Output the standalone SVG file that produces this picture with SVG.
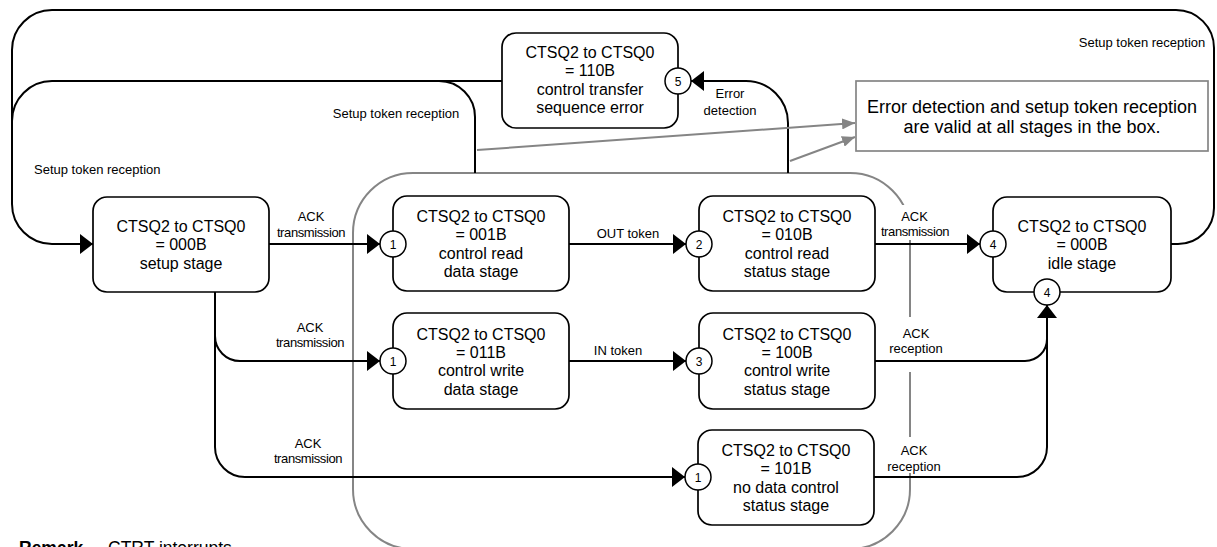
<svg xmlns="http://www.w3.org/2000/svg" width="1217" height="547" viewBox="0 0 1217 547">
<style>
  .box{fill:#fff;stroke:#000;stroke-width:1.7}
  .t{font-family:"Liberation Sans",Arial,sans-serif;font-size:16px;text-anchor:middle;fill:#000}
  .l{font-family:"Liberation Sans",Arial,sans-serif;font-size:13px;text-anchor:middle;fill:#000}
  .tr{letter-spacing:-0.4px}
  .c{fill:#fff;stroke:#000;stroke-width:1.5}
  .n{font-family:"Liberation Sans",Arial,sans-serif;font-size:12px;text-anchor:middle;fill:#000}
  .w{fill:none;stroke:#000;stroke-width:2}
  .wa{fill:none;stroke:#000;stroke-width:2;marker-end:url(#ah)}
  .g{fill:none;stroke:#858585;stroke-width:2}
  .ga{fill:none;stroke:#858585;stroke-width:2;marker-end:url(#gh)}
  .mask{fill:#fff;stroke:none}
</style>
<defs>
  <marker id="ah" markerUnits="userSpaceOnUse" markerWidth="13" markerHeight="20" viewBox="0 0 13 20" refX="13" refY="10" orient="auto">
    <path d="M0,0 L13,10 L0,20 Z" fill="#000"/>
  </marker>
  <marker id="gh" markerUnits="userSpaceOnUse" markerWidth="13" markerHeight="11" viewBox="0 0 13 11" refX="13" refY="5.5" orient="auto">
    <path d="M0,0 L13,5.5 L0,11 Z" fill="#858585"/>
  </marker>
</defs>
<rect width="1217" height="547" fill="#fff"/>

<g id="stage-box">
  <rect x="353" y="173" width="557" height="376" rx="60" ry="60" class="g"/>
</g>

<g id="label-masks">
  <rect class="mask" x="880" y="205" width="70" height="35"/>
  <rect class="mask" x="885" y="317" width="62" height="55"/>
  <rect class="mask" x="885" y="437" width="60" height="36"/>
</g>

<g id="connectors">
  <path class="wa" d="M1171,244 H1178 A36,36 0 0 0 1214,208 V48 A38,38 0 0 0 1176,10 H52 A40,40 0 0 0 12,50 V204 A40,40 0 0 0 52,244 H93"/>
  <path class="w" d="M502,81 H52 A40,40 0 0 0 12,121"/>
  <path class="w" d="M475,173 V117 A36,36 0 0 0 439,81"/>
  <path class="wa" d="M788,173 V123 A42,42 0 0 0 746,81 H691"/>
  <path class="wa" d="M269,244 H380"/>
  <path class="wa" d="M215,292 V336 A25,25 0 0 0 240,361 H380"/>
  <path class="wa" d="M215,292 V447 A30,30 0 0 0 245,477 H685"/>
  <path class="wa" d="M569,244 H686"/>
  <path class="wa" d="M569,361 H686"/>
  <path class="wa" d="M875,244 H980"/>
  <path class="wa" d="M875,361 H1025 A22,22 0 0 0 1047,339 V305"/>
  <path class="w" d="M874,477 H1017 A30,30 0 0 0 1047,447 V339"/>
  <path class="ga" d="M477,150 L855,123"/>
  <path class="ga" d="M790,161 L855,137"/>
</g>

<g id="labels">
  <text class="l" x="1142" y="47">Setup token reception</text>
  <text class="l" x="396" y="118">Setup token reception</text>
  <text class="l" x="34" y="174" style="text-anchor:start">Setup token reception</text>
  <text class="l" x="730" y="97.5">Error</text>
  <text class="l" x="730" y="114.5">detection</text>
  <text class="l" x="311" y="221">ACK</text>
  <text class="l tr" x="311" y="237">transmission</text>
  <text class="l" x="310" y="331.5">ACK</text>
  <text class="l tr" x="310" y="347">transmission</text>
  <text class="l" x="308" y="447.5">ACK</text>
  <text class="l tr" x="308" y="463">transmission</text>
  <text class="l" x="628" y="237.5">OUT token</text>
  <text class="l" x="618" y="354.5">IN token</text>
  <text class="l" x="914.5" y="220.5">ACK</text>
  <text class="l tr" x="915" y="236">transmission</text>
  <text class="l" x="916" y="337.5">ACK</text>
  <text class="l" x="916" y="353">reception</text>
  <text class="l" x="914" y="454.5">ACK</text>
  <text class="l" x="914" y="470.5">reception</text>
</g>

<g id="note">
  <rect x="856" y="81" width="352" height="70" fill="#fff" stroke="#858585" stroke-width="1.7"/>
  <text class="t" x="1032" y="113" style="font-size:18px">Error detection and setup token reception</text>
  <text class="t" x="1032" y="132.5" style="font-size:18px">are valid at all stages in the box.</text>
</g>

<g id="node-setup">
  <rect class="box" x="93" y="197" width="176" height="95" rx="14"/>
  <text class="t" x="181" y="232">CTSQ2 to CTSQ0</text>
  <text class="t" x="181" y="250">= 000B</text>
  <text class="t" x="181" y="268.5">setup stage</text>
</g>

<g id="node-001B">
  <rect class="box" x="393" y="196" width="176" height="95" rx="14"/>
  <text class="t" x="481" y="222">CTSQ2 to CTSQ0</text>
  <text class="t" x="481" y="240">= 001B</text>
  <text class="t" x="481" y="258.5">control read</text>
  <text class="t" x="481" y="277">data stage</text>
  <circle class="c" cx="393" cy="244" r="13"/>
  <text class="n" x="393" y="248.5">1</text>
</g>

<g id="node-011B">
  <rect class="box" x="393" y="313" width="176" height="96" rx="14"/>
  <text class="t" x="481" y="339.5">CTSQ2 to CTSQ0</text>
  <text class="t" x="481" y="357.5">= 011B</text>
  <text class="t" x="481" y="376">control write</text>
  <text class="t" x="481" y="394.5">data stage</text>
  <circle class="c" cx="393" cy="361" r="13"/>
  <text class="n" x="393" y="365.5">1</text>
</g>

<g id="node-010B">
  <rect class="box" x="699" y="196" width="176" height="95" rx="14"/>
  <text class="t" x="787" y="222">CTSQ2 to CTSQ0</text>
  <text class="t" x="787" y="240">= 010B</text>
  <text class="t" x="787" y="258.5">control read</text>
  <text class="t" x="787" y="277">status stage</text>
  <circle class="c" cx="699" cy="244" r="13"/>
  <text class="n" x="699" y="248.5">2</text>
</g>

<g id="node-100B">
  <rect class="box" x="699" y="313" width="176" height="96" rx="14"/>
  <text class="t" x="787" y="339.5">CTSQ2 to CTSQ0</text>
  <text class="t" x="787" y="357.5">= 100B</text>
  <text class="t" x="787" y="376">control write</text>
  <text class="t" x="787" y="394.5">status stage</text>
  <circle class="c" cx="699" cy="361" r="13"/>
  <text class="n" x="699" y="365.5">3</text>
</g>

<g id="node-101B">
  <rect class="box" x="698" y="430" width="176" height="95" rx="14"/>
  <text class="t" x="786" y="456">CTSQ2 to CTSQ0</text>
  <text class="t" x="786" y="474">= 101B</text>
  <text class="t" x="786" y="492.5">no data control</text>
  <text class="t" x="786" y="511">status stage</text>
  <circle class="c" cx="698" cy="477" r="13"/>
  <text class="n" x="698" y="481.5">1</text>
</g>

<g id="node-110B">
  <rect class="box" x="502" y="33" width="176" height="95" rx="14"/>
  <text class="t" x="590" y="57.5">CTSQ2 to CTSQ0</text>
  <text class="t" x="590" y="76">= 110B</text>
  <text class="t" x="590" y="94.5">control transfer</text>
  <text class="t" x="590" y="113">sequence error</text>
  <circle class="c" cx="678" cy="81" r="13"/>
  <text class="n" x="678" y="85.5">5</text>
</g>

<g id="node-idle">
  <rect class="box" x="993" y="197" width="178" height="95" rx="14"/>
  <text class="t" x="1082" y="232">CTSQ2 to CTSQ0</text>
  <text class="t" x="1082" y="250">= 000B</text>
  <text class="t" x="1082" y="268.5">idle stage</text>
  <circle class="c" cx="993" cy="244" r="13"/>
  <text class="n" x="993" y="248.5">4</text>
  <circle class="c" cx="1047" cy="292" r="13"/>
  <text class="n" x="1047" y="296.5">4</text>
</g>

<g id="remark">
  <text x="19" y="553.5" style="font-family:'Liberation Sans',Arial,sans-serif;font-size:17.5px;font-weight:bold">Remark</text>
  <text x="108" y="553.5" style="font-family:'Liberation Sans',Arial,sans-serif;font-size:17.5px">CTRT interrupts</text>
</g>
</svg>
